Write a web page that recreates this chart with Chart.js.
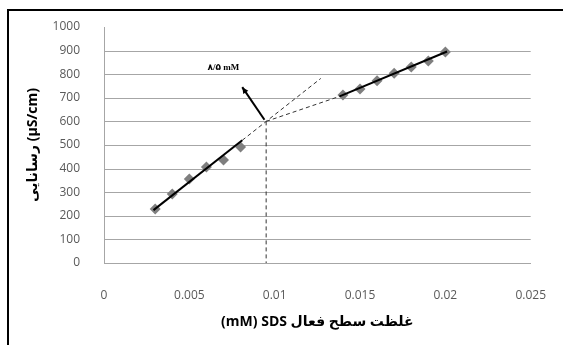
<!DOCTYPE html>
<html>
<head>
<meta charset="utf-8">
<script src="https://cdn.jsdelivr.net/npm/chart.js@4.4.1/dist/chart.umd.min.js"></script>
<style>
  html, body { margin: 0; padding: 0; background: #fff; overflow: hidden; }
  #wrap { position: relative; width: 563px; height: 345px; }
  #marco { position: absolute; left: 7px; top: 9px; width: 600px; height: 400px;
           border-top: 2px solid #000; border-left: 2px solid #000; pointer-events: none; }
  canvas { position: absolute; left: 0; top: 0; }
</style>
</head>
<body>
<div id="wrap">
  <canvas id="grafico" width="563" height="345"></canvas>
  <div id="marco"></div>
</div>
<script>
// concentraciones (mM) y conductividad (µS/cm)
const concBaja = [0.003, 0.004, 0.005, 0.006, 0.007, 0.008];
const condBaja = [229, 292, 356, 407, 436, 491];
const concAlta = [0.014, 0.015, 0.016, 0.017, 0.018, 0.019, 0.020];
const condAlta = [712, 737, 772, 804, 830, 856, 894];

// rectas de ajuste y construccion del CMC
const ajusteBajaX = [0.0029, 0.0081];
const ajusteBajaY = [224, 520];
const extBajaX = [0.0081, 0.0127];
const extBajaY = [520, 782];
const ajusteAltaX = [0.0138, 0.0201];
const ajusteAltaY = [706, 896];
const extAltaX = [0.0095, 0.0138];
const extAltaY = [600, 706];
const verticalX = [0.0095, 0.0095];
const verticalY = [600, 0];
const flechaX = [0.0094, 0.0081];
const flechaY = [607, 745];
const etiquetaCmc = { x: 0.0070, y: 826, texto: "۸/۵ mM" };

const tituloX = "(mM) SDS غلظت سطح فعال";
const tituloY = "رسانایی (µS/cm)";

function puntos(xs, ys) {
  return xs.map((x, i) => ({ x, y: ys[i] }));
}

function linea(xs, ys, extra = {}) {
  return Object.assign({
    type: "line",
    data: puntos(xs, ys),
    borderColor: "#000",
    borderWidth: 2,
    pointRadius: 0,
    showLine: true,
    fill: false,
    tension: 0
  }, extra);
}

const pluginFlecha = {
  id: "flecha",
  afterDatasetsDraw(chart) {
    const { ctx, scales } = chart;
    const x0 = scales.x.getPixelForValue(flechaX[0]);
    const y0 = scales.y.getPixelForValue(flechaY[0]);
    const x1 = scales.x.getPixelForValue(flechaX[1]);
    const y1 = scales.y.getPixelForValue(flechaY[1]);
    const ang = Math.atan2(y1 - y0, x1 - x0);
    const largo = 7;
    ctx.save();
    ctx.fillStyle = "#000";
    ctx.beginPath();
    ctx.moveTo(x1, y1);
    ctx.lineTo(x1 - largo * Math.cos(ang - 0.45), y1 - largo * Math.sin(ang - 0.45));
    ctx.lineTo(x1 - largo * Math.cos(ang + 0.45), y1 - largo * Math.sin(ang + 0.45));
    ctx.closePath();
    ctx.fill();

    ctx.font = "bold 9px 'Liberation Serif', 'DejaVu Sans'";
    ctx.textAlign = "center";
    ctx.textBaseline = "middle";
    ctx.fillText(etiquetaCmc.texto, scales.x.getPixelForValue(etiquetaCmc.x), scales.y.getPixelForValue(etiquetaCmc.y));
    ctx.restore();
  }
};

// lineas horizontales de la grilla (sin la de arriba, como en el original)
const pluginGrilla = {
  id: "grilla",
  beforeDatasetsDraw(chart) {
    const { ctx, scales, chartArea } = chart;
    ctx.save();
    ctx.strokeStyle = "#a6a6a6";
    ctx.lineWidth = 1;
    scales.y.ticks.forEach((t) => {
      if (t.value >= scales.y.max) return;
      const y = Math.round(scales.y.getPixelForValue(t.value)) + 0.5;
      ctx.beginPath();
      ctx.moveTo(chartArea.left, y);
      ctx.lineTo(chartArea.right, y);
      ctx.stroke();
    });
    ctx.restore();
  }
};

new Chart(document.getElementById("grafico"), {
  type: "scatter",
  data: {
    datasets: [
      linea(ajusteBajaX, ajusteBajaY),
      linea(ajusteAltaX, ajusteAltaY),
      linea(extBajaX, extBajaY, { borderWidth: 1, borderDash: [4, 3], borderColor: "#333" }),
      linea(extAltaX, extAltaY, { borderWidth: 1, borderDash: [4, 3], borderColor: "#333" }),
      linea(verticalX, verticalY, { borderWidth: 1, borderDash: [4, 3], borderColor: "#333" }),
      linea(flechaX, flechaY, { borderWidth: 2 }),
      {
        data: puntos(concBaja, condBaja).concat(puntos(concAlta, condAlta)),
        pointStyle: "rectRot",
        pointRadius: 5.5,
        backgroundColor: "#7f7f7f",
        borderColor: "#7f7f7f",
        borderWidth: 0
      }
    ]
  },
  options: {
    responsive: false,
    animation: false,
    layout: { padding: { left: 0, top: 27, right: 28, bottom: 0 } },
    plugins: { legend: { display: false }, tooltip: { enabled: false } },
    scales: {
      x: {
        type: "linear",
        min: 0,
        max: 0.025,
        afterFit: (escala) => { escala.height = 82; },
        grid: { display: false },
        border: { color: "#a6a6a6" },
        ticks: {
          stepSize: 0.005,
          padding: 17,
          color: "#595959",
          font: { family: "'Open Sans'", size: 12 },
          callback: (v) => String(Number(v.toFixed(3)))
        },
        title: {
          display: true,
          text: tituloX,
          color: "#000",
          font: { family: "'Open Sans', 'DejaVu Sans'", size: 14, weight: "bold" },
          padding: { top: 0, bottom: 15 }
        }
      },
      y: {
        type: "linear",
        min: 0,
        max: 1000,
        afterFit: (escala) => { escala.width = 104; },
        grid: { display: false },
        border: { color: "#a6a6a6" },
        ticks: {
          stepSize: 100,
          padding: 16,
          color: "#595959",
          font: { family: "'Open Sans'", size: 12 },
          callback: (v) => String(v)
        },
        title: {
          display: true,
          text: tituloY,
          color: "#000",
          font: { family: "'Open Sans', 'DejaVu Sans'", size: 14, weight: "bold" },
          padding: { top: 25, bottom: 0 }
        }
      }
    }
  },
  plugins: [pluginGrilla, pluginFlecha]
});
</script>
</body>
</html>
